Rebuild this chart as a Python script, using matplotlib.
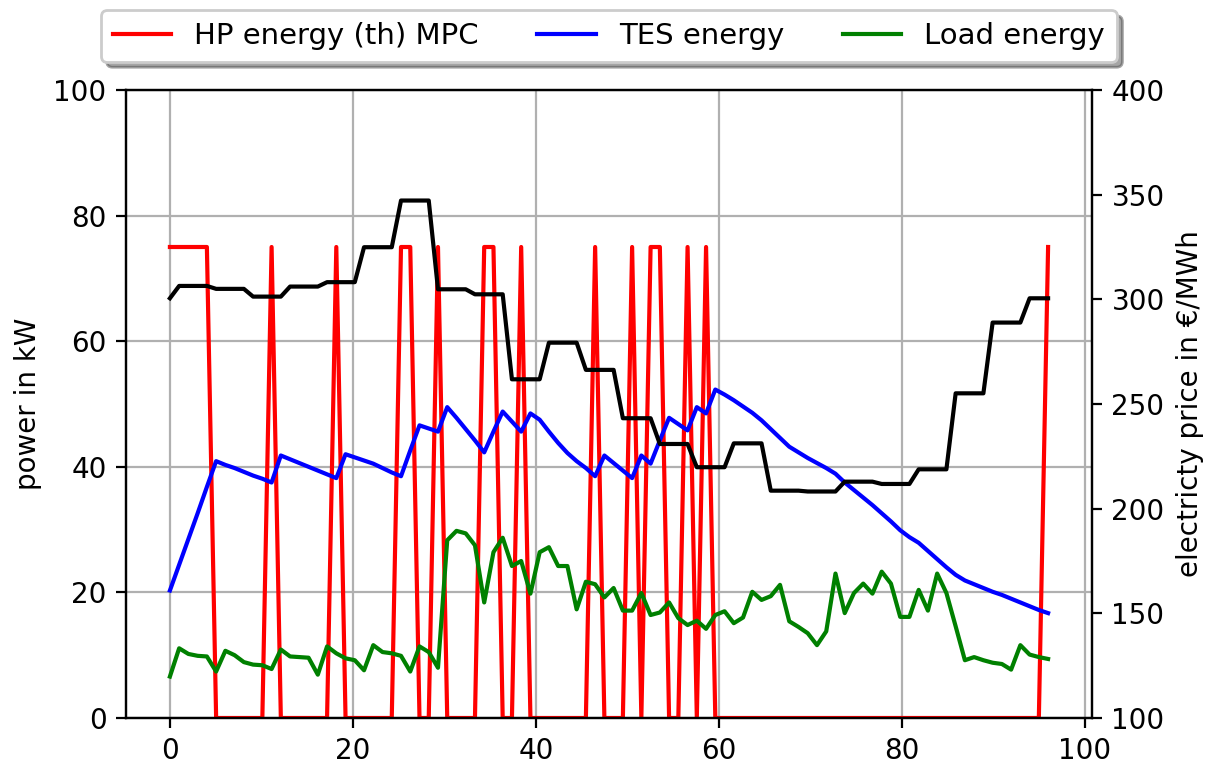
import numpy as np
import matplotlib
matplotlib.use("Agg")
import matplotlib.pyplot as plt

# ---- data (96 quarter-hour steps) ----
hp_energy = [75, 75, 75, 75, 75, 0, 0, 0, 0, 0,
             0, 75, 0, 0, 0, 0, 0, 0, 75, 0,
             0, 0, 0, 0, 0, 75, 75, 0, 0, 75,
             0, 0, 0, 0, 75, 75, 0, 0, 75, 0,
             0, 0, 0, 0, 0, 0, 75, 0, 0, 0,
             75, 0, 75, 75, 0, 0, 75, 0, 75, 0,
             0, 0, 0, 0, 0, 0, 0, 0, 0, 0,
             0, 0, 0, 0, 0, 0, 0, 0, 0, 0,
             0, 0, 0, 0, 0, 0, 0, 0, 0, 0,
             0, 0, 0, 0, 0, 75]

tes_energy = [20.3, 24.4, 28.5, 32.6, 36.8, 40.9, 40.3, 39.8, 39.2, 38.6,
              38.1, 37.5, 41.8, 41.2, 40.6, 40.0, 39.4, 38.8, 38.2, 42.0,
              41.5, 41.0, 40.5, 39.8, 39.1, 38.5, 42.6, 46.6, 46.1, 45.6,
              49.5, 47.8, 46.0, 44.2, 42.3, 45.6, 48.8, 47.2, 45.6, 48.5,
              47.5, 45.6, 43.8, 42.2, 40.9, 39.8, 38.5, 41.8, 40.6, 39.4,
              38.2, 41.8, 40.5, 44.2, 47.8, 46.8, 45.8, 49.5, 48.5, 52.3,
              51.5, 50.6, 49.6, 48.6, 47.4, 46.0, 44.6, 43.2, 42.3, 41.4,
              40.6, 39.8, 38.9, 37.5, 36.3, 35.1, 33.9, 32.6, 31.3, 29.9,
              28.8, 27.9, 26.6, 25.3, 24.0, 22.8, 21.9, 21.3, 20.7, 20.1,
              19.6, 19.0, 18.4, 17.8, 17.2, 16.7]

load_energy = [6.6, 11.1, 10.2, 9.9, 9.8, 7.4, 10.7, 10.0, 8.9, 8.5,
               8.4, 7.8, 10.9, 9.8, 9.7, 9.6, 6.9, 11.4, 10.3, 9.5,
               9.2, 7.6, 11.6, 10.5, 10.3, 9.9, 7.4, 11.4, 10.5, 8.0,
               28.3, 29.8, 29.4, 27.5, 18.4, 26.4, 28.7, 24.2, 25.0, 19.8,
               26.4, 27.2, 24.2, 24.2, 17.3, 21.7, 21.3, 19.2, 20.7, 17.1,
               17.1, 19.9, 16.4, 16.8, 18.4, 15.9, 14.8, 15.5, 14.2, 16.4,
               17.0, 15.1, 16.0, 20.1, 18.8, 19.4, 21.2, 15.4, 14.5, 13.5,
               11.6, 13.8, 23.0, 16.7, 19.9, 21.4, 19.8, 23.3, 21.4, 16.1,
               16.1, 20.4, 17.1, 23.0, 19.9, 14.6, 9.2, 9.7, 9.2, 8.8,
               8.6, 7.7, 11.6, 10.1, 9.7, 9.4]

price = [300.5, 306.4, 306.4, 306.4, 306.4, 305.0, 305.0, 305.0, 305.0, 301.3,
         301.3, 301.3, 301.3, 306.1, 306.1, 306.1, 306.1, 308.2, 308.2, 308.2,
         308.2, 324.9, 324.9, 324.9, 324.9, 347.2, 347.2, 347.2, 347.2, 304.8,
         304.8, 304.8, 304.8, 302.4, 302.4, 302.4, 302.4, 261.8, 261.8, 261.8,
         261.8, 279.3, 279.3, 279.3, 279.3, 266.3, 266.3, 266.3, 266.3, 243.2,
         243.2, 243.2, 243.2, 230.9, 230.9, 230.9, 230.9, 219.8, 219.8, 219.8,
         219.8, 231.2, 231.2, 231.2, 231.2, 208.6, 208.6, 208.6, 208.6, 208.2,
         208.2, 208.2, 208.2, 212.9, 212.9, 212.9, 212.9, 211.8, 211.8, 211.8,
         211.8, 218.8, 218.8, 218.8, 218.8, 255.1, 255.1, 255.1, 255.1, 288.9,
         288.9, 288.9, 288.9, 300.5, 300.5, 300.5]

x = np.linspace(0, 96, len(hp_energy))

labels = ["HP energy (th) MPC", "TES energy", "Load energy"]
ylabel_left = "power in kW"
ylabel_right = "electricty price in €/MWh"

# ---- figure ----
DPI = 200
fig = plt.figure(figsize=(1213 / DPI, 765 / DPI), dpi=DPI)
ax = fig.add_axes([126 / 1213, 1 - 718 / 765, (1092 - 126) / 1213, (718 - 90) / 765])

l1, = ax.plot(x, hp_energy, color="r", label=labels[0])
l2, = ax.plot(x, tes_energy, color="b", label=labels[1])
l3, = ax.plot(x, load_energy, color="g", label=labels[2])
ax.set_ylim(0, 100)
ax.set_xticks([0, 20, 40, 60, 80, 100])
ax.set_ylabel(ylabel_left)
ax.grid(True)

ax2 = ax.twinx()
ax2.plot(x, price, color="k")
ax2.set_ylim(100, 400)
ax2.set_ylabel(ylabel_right)

ax.legend(handles=[l1, l2, l3], loc="center", bbox_to_anchor=(0.5, (718 - 36) / 628),
          ncol=3, shadow=True, frameon=True, fontsize=10.5)

fig.savefig("out.png", dpi=DPI)
